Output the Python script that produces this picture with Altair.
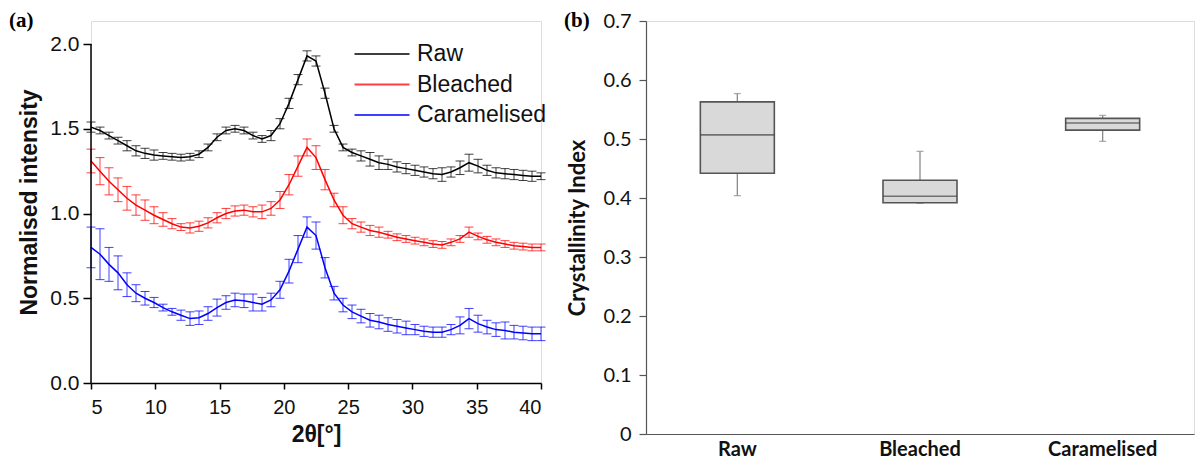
import altair as alt
import pandas as pd

# ---------------- Panel (a): XRD patterns ----------------
two_theta = [5.0, 5.7, 6.4, 7.1, 7.8, 8.5, 9.2, 9.9, 10.6, 11.3, 12.0, 12.7, 13.4, 14.1,
             14.8, 15.5, 16.2, 16.9, 17.6, 18.3, 19.0, 19.7, 20.4, 21.1, 21.8, 22.5,
             23.2, 23.9, 24.6, 25.3, 26.0, 26.7, 27.4, 28.1, 28.8, 29.5, 30.2, 30.9,
             31.6, 32.3, 33.0, 33.7, 34.4, 35.1, 35.8, 36.5, 37.2, 37.9, 38.6, 39.3, 40.0]

raw_int = [1.51, 1.49, 1.46, 1.43, 1.40, 1.37, 1.355, 1.345, 1.34, 1.335, 1.33, 1.335, 1.35, 1.39,
           1.45, 1.49, 1.50, 1.49, 1.46, 1.44, 1.46, 1.53, 1.65, 1.79, 1.93, 1.90,
           1.71, 1.50, 1.39, 1.36, 1.34, 1.32, 1.30, 1.29, 1.275, 1.265, 1.255, 1.245,
           1.235, 1.23, 1.245, 1.27, 1.30, 1.28, 1.255, 1.24, 1.235, 1.23, 1.225, 1.22, 1.22]
raw_err = [0.03, 0.02, 0.02, 0.02, 0.03, 0.03, 0.03, 0.03, 0.02, 0.02, 0.02, 0.02, 0.02, 0.02,
           0.02, 0.02, 0.02, 0.02, 0.02, 0.02, 0.03, 0.03, 0.03, 0.03, 0.03, 0.03,
           0.03, 0.02, 0.02, 0.02, 0.03, 0.04, 0.04, 0.03, 0.03, 0.03, 0.03, 0.03,
           0.03, 0.04, 0.03, 0.04, 0.05, 0.04, 0.03, 0.03, 0.03, 0.03, 0.03, 0.03, 0.02]

bleached_int = [1.31, 1.25, 1.19, 1.14, 1.09, 1.05, 1.02, 0.99, 0.965, 0.94, 0.92, 0.915, 0.925, 0.945,
                0.975, 1.00, 1.015, 1.02, 1.01, 1.01, 1.03, 1.08, 1.17, 1.28, 1.39, 1.33,
                1.20, 1.08, 0.99, 0.94, 0.92, 0.90, 0.89, 0.875, 0.86, 0.85, 0.84, 0.83,
                0.82, 0.815, 0.83, 0.85, 0.89, 0.865, 0.845, 0.83, 0.82, 0.81, 0.805, 0.80, 0.80]
bleached_err = [0.07, 0.08, 0.08, 0.07, 0.07, 0.06, 0.06, 0.05, 0.04, 0.03, 0.02, 0.03, 0.03, 0.03,
                0.03, 0.03, 0.03, 0.03, 0.03, 0.04, 0.04, 0.05, 0.06, 0.06, 0.05, 0.07,
                0.06, 0.04, 0.05, 0.03, 0.03, 0.03, 0.03, 0.02, 0.02, 0.02, 0.02, 0.02,
                0.02, 0.02, 0.02, 0.02, 0.03, 0.02, 0.02, 0.02, 0.02, 0.02, 0.02, 0.02, 0.02]

caramelised_int = [0.80, 0.76, 0.70, 0.65, 0.58, 0.53, 0.50, 0.475, 0.445, 0.42, 0.40, 0.38, 0.385, 0.41,
                   0.445, 0.475, 0.49, 0.485, 0.475, 0.465, 0.49, 0.55, 0.66, 0.79, 0.92, 0.87,
                   0.68, 0.53, 0.46, 0.42, 0.395, 0.37, 0.36, 0.345, 0.335, 0.325, 0.315, 0.305,
                   0.30, 0.30, 0.315, 0.34, 0.38, 0.35, 0.33, 0.315, 0.31, 0.30, 0.295, 0.29, 0.29]
caramelised_err = [0.12, 0.15, 0.10, 0.10, 0.07, 0.05, 0.04, 0.03, 0.02, 0.02, 0.03, 0.04, 0.04, 0.04,
                   0.05, 0.04, 0.04, 0.04, 0.05, 0.04, 0.04, 0.05, 0.07, 0.08, 0.06, 0.08,
                   0.06, 0.04, 0.04, 0.04, 0.04, 0.04, 0.04, 0.04, 0.04, 0.04, 0.03, 0.03,
                   0.03, 0.03, 0.03, 0.05, 0.06, 0.05, 0.04, 0.04, 0.05, 0.04, 0.04, 0.04, 0.04]

series_names = ["Raw", "Bleached", "Caramelised"]
series_colors = ["#000000", "#ff0000", "#0000ff"]

rows = []
for name, vals, errs in zip(series_names,
                            [raw_int, bleached_int, caramelised_int],
                            [raw_err, bleached_err, caramelised_err]):
    for x, v, e in zip(two_theta, vals, errs):
        rows.append({"theta": x, "series": name, "intensity": v, "err": e})
xrd = pd.DataFrame(rows)

sans = "Liberation Sans"

# long line swatch drawn with a small symbol size so legend rows stay compact
color = alt.Color(
    "series:N",
    sort=series_names,
    scale=alt.Scale(domain=series_names, range=series_colors),
    legend=alt.Legend(
        title=None, orient="none", legendX=279, legendY=21,
        symbolType="M-2.5,0H2.5", symbolSize=484, symbolStrokeWidth=2,
        symbolFillColor="transparent",
        labelFont=sans, labelFontSize=23, labelColor="#111",
        rowPadding=6.5, labelOffset=23, padding=0,
    ),
)

x_a = alt.X("theta:Q", scale=alt.Scale(domain=[5, 40], nice=False),
            axis=alt.Axis(title="2θ[°]", values=[5, 10, 15, 20, 25, 30, 35, 40],
                          grid=False, domainColor="#000", domainWidth=1.5,
                          tickColor="#000", tickSize=6, tickWidth=1.5,
                          labelFont=sans, labelFontSize=20, labelColor="#111", labelPadding=8,
                          titleFont=sans, titleFontSize=23, titleFontWeight="bold",
                          titleColor="#111", titlePadding=6))
# the y scale runs a little above 2.0 so that this panel's top lines up with panel (b)
y_a = alt.Y("intensity:Q", scale=alt.Scale(domain=[0, 2.136], nice=False),
            axis=alt.Axis(title="Normalised intensity", values=[0, 0.5, 1.0, 1.5, 2.0],
                          format=".1f", grid=False, domain=False,
                          tickColor="#000", tickSize=8, tickWidth=1.5,
                          labelFont=sans, labelFontSize=21, labelColor="#111", labelPadding=4,
                          titleFont=sans, titleFontSize=23, titleFontWeight="bold",
                          titleColor="#111", titlePadding=8))

base_a = alt.Chart(xrd)
err_a = base_a.transform_calculate(
    lo="datum.intensity - datum.err", hi="datum.intensity + datum.err"
)
err_rules = err_a.mark_rule(strokeWidth=1, opacity=0.75).encode(
    x=x_a, y=alt.Y("lo:Q"), y2="hi:Q", color=color)
err_lo = err_a.mark_tick(orient="horizontal", size=9, thickness=1, opacity=0.75).encode(
    x=x_a, y=alt.Y("lo:Q"), color=color)
err_hi = err_a.mark_tick(orient="horizontal", size=9, thickness=1, opacity=0.75).encode(
    x=x_a, y=alt.Y("hi:Q"), color=color)
lines = base_a.mark_line(strokeWidth=1.5).encode(x=x_a, y=y_a, color=color)

# y axis line from 0 to 2.0 only
y_axis_line = alt.Chart(pd.DataFrame({"y0": [0.0], "y1": [2.0]})).mark_rule(
    color="#000", strokeWidth=1.5
).encode(x=alt.value(0), y=alt.Y("y0:Q"), y2="y1:Q")

label_a = alt.Chart(pd.DataFrame({"t": ["(a)"]})).mark_text(
    align="left", baseline="middle", font="Liberation Serif", fontWeight="bold",
    fontSize=21, color="#000"
).encode(text="t:N", x=alt.value(-82), y=alt.value(0))

panel_a = alt.layer(lines, err_rules, err_lo, err_hi, y_axis_line, label_a).properties(
    width=450, height=362)

# ---------------- Panel (b): Crystallinity index box plots ----------------
categories = ["Raw", "Bleached", "Caramelised"]
whisker_low = [0.404, 0.391, 0.496]
q1 = [0.442, 0.392, 0.515]
median = [0.507, 0.403, 0.527]
q3 = [0.563, 0.430, 0.535]
whisker_high = [0.577, 0.479, 0.540]

box = pd.DataFrame({"cat": categories, "lo": whisker_low, "q1": q1,
                    "med": median, "q3": q3, "hi": whisker_high})

font_b = "Lato"
x_b = alt.X("cat:N", sort=categories, scale=alt.Scale(paddingInner=0, paddingOuter=0),
            axis=alt.Axis(title=None, labelAngle=0, ticks=False, domainColor="#555",
                          domainWidth=1.2, labelFont=font_b, labelFontSize=20,
                          labelFontWeight="bold", labelColor="#111", labelPadding=5))
y_b = alt.Y("q1:Q", scale=alt.Scale(domain=[0, 0.7], nice=False),
            axis=alt.Axis(title="Crystallinity Index", values=[0, 0.1, 0.2, 0.3, 0.4, 0.5, 0.6, 0.7],
                          labelExpr="datum.value == 0 ? '0' : format(datum.value, '.1f')",
                          grid=False, domainColor="#555", domainWidth=1.2,
                          tickColor="#555", tickSize=7, tickWidth=1.2,
                          labelFont=font_b, labelFontSize=20, labelColor="#111", labelPadding=8,
                          titleFont=font_b, titleFontSize=22, titleFontWeight="bold",
                          titleColor="#111", titlePadding=14))

base_b = alt.Chart(box)
whisk = base_b.mark_rule(color="#8a8a8a", strokeWidth=1.3).encode(
    x=x_b, y=alt.Y("lo:Q"), y2="hi:Q")
cap_lo = base_b.mark_tick(orient="horizontal", size=7, thickness=1.3, color="#8a8a8a").encode(
    x=x_b, y=alt.Y("lo:Q"))
cap_hi = base_b.mark_tick(orient="horizontal", size=7, thickness=1.3, color="#8a8a8a").encode(
    x=x_b, y=alt.Y("hi:Q"))
bars = base_b.mark_bar(size=74, color="#d9d9d9", stroke="#555555", strokeWidth=1.6).encode(
    x=x_b, y=y_b, y2="q3:Q")
med_tick = base_b.mark_tick(orient="horizontal", size=74, thickness=1.6, color="#444444").encode(
    x=x_b, y=alt.Y("med:Q"))

label_b = alt.Chart(pd.DataFrame({"t": ["(b)"]})).mark_text(
    align="left", baseline="middle", font="Liberation Serif", fontWeight="bold",
    fontSize=21, color="#000"
).encode(text="t:N", x=alt.value(-82), y=alt.value(0))

panel_b = alt.layer(whisk, cap_lo, cap_hi, bars, med_tick, label_b).properties(width=548, height=413)

chart = alt.hconcat(panel_a, panel_b, spacing=17).properties(
    padding={"left": 0, "top": 1, "right": 0, "bottom": 0}
).configure_view(stroke=None).configure(background="white")

chart.save("out.html", embed_options={"renderer": "svg", "actions": False})
